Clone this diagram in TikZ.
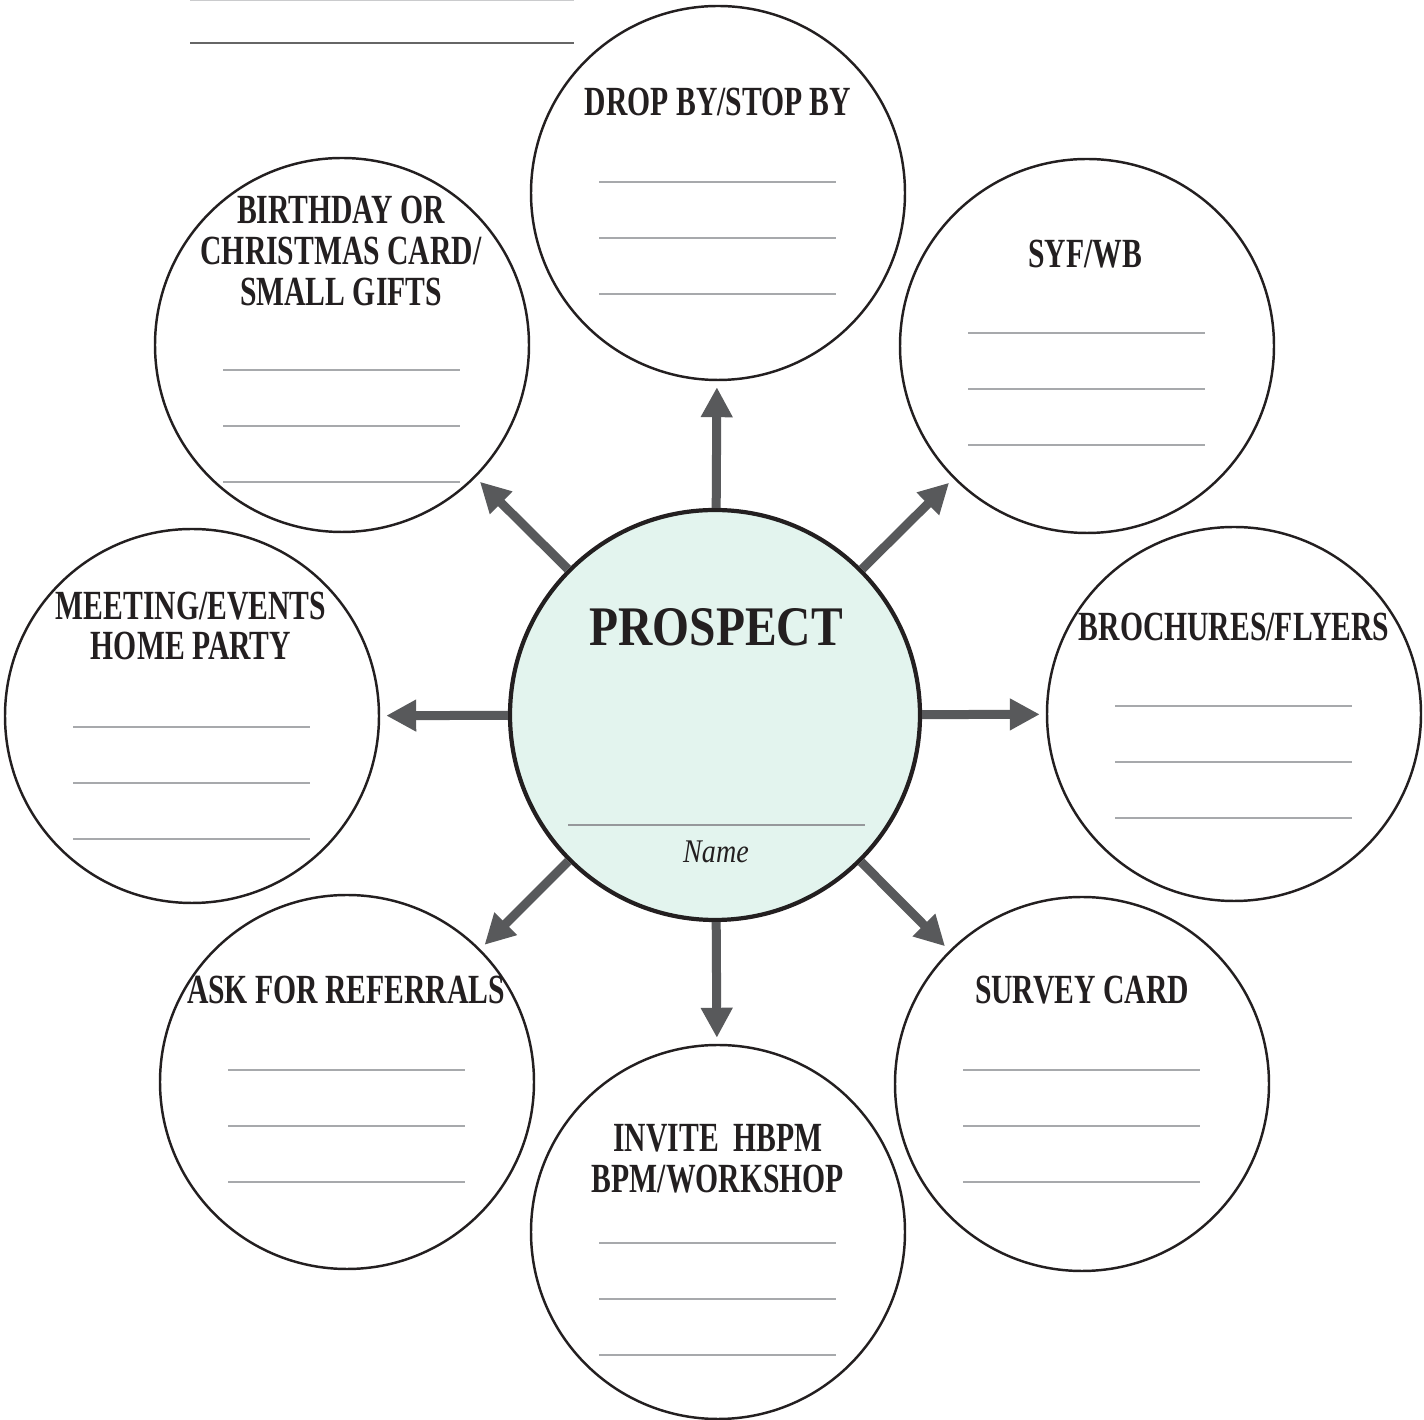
\documentclass[tikz,border=0pt]{standalone}
\usepackage{fontspec}
\newfontfamily\tightfont{Liberation Serif}[FakeStretch=0.715]
\newfontfamily\widefont{Liberation Serif}[FakeStretch=0.85]
\usetikzlibrary{arrows.meta}
\usetikzlibrary{calc}
\usetikzlibrary{positioning}
\definecolor{mint}{HTML}{E3F4EE}
\definecolor{arrowgray}{HTML}{58595B}
\definecolor{inkblack}{HTML}{231F20}
\definecolor{rulegray}{HTML}{A7A9AC}
\tikzstyle{bubble} = [circle, draw=inkblack, line width=0.7pt, minimum size=37.4mm, inner sep=0pt]
\tikzstyle{hub} = [circle, draw=inkblack, line width=1.2pt, fill=mint, minimum size=41mm, inner sep=0pt]
\tikzstyle{heading} = [font=\tightfont\bfseries\fontsize{11.8}{11.6}\selectfont, align=center, inner sep=0pt, text=inkblack]
\tikzstyle{arrow} = [arrowgray, line width=0.9mm, -{Triangle[length=3mm,width=3mm]}, shorten >=0.6mm]
\tikzstyle{writeline} = [rulegray, line width=0.45pt]

\begin{document}
\begin{tikzpicture}[x=0.1mm, y=-0.1mm]
\useasboundingbox (0,0) rectangle (1424,1420);

% blank lines at the top
\draw [writeline, rulegray!60] (190,0.6) -- (574,0.6);
\draw [writeline, black!60, line width=0.6pt] (190,43) -- (574,43);

\node (prospect) [hub] at (715,715) {};
\node (drop) [bubble] at (718,193) {};
\node (syf) [bubble] at (1087,346) {};
\node (brochures) [bubble] at (1234,714) {};
\node (survey) [bubble] at (1082,1084) {};
\node (invite) [bubble] at (718,1232) {};
\node (referrals) [bubble] at (347,1082) {};
\node (meeting) [bubble] at (192,716) {};
\node (birthday) [bubble] at (342,345) {};

\node (prospectT) [heading, font=\widefont\bfseries\fontsize{15.9}{16}\selectfont] at ($(prospect)+(1,-88)$) {PROSPECT};
\node (prospectN) [heading, font=\widefont\itshape\fontsize{9.4}{10}\selectfont] at ($(prospect)+(1,137)$) {Name};
\draw [writeline, rulegray!90!black] ($(prospect)+(-147,110)$) -- ++(297,0);

\node (dropT) [heading] at ($(drop)+(0,-91)$) {DROP BY/STOP BY};
\node (syfT) [heading] at ($(syf)+(-2,-92)$) {SYF/WB};
\node (brochuresT) [heading] at ($(brochures)+(0,-87)$) {BROCHURES/FLYERS};
\node (surveyT) [heading] at ($(survey)+(0,-94)$) {SURVEY CARD};
\node (inviteT) [heading] at ($(invite)+(0,-73)$) {INVITE\ \ HBPM\\BPM/WORKSHOP};
\node (referralsT) [heading] at ($(referrals)+(-1,-92)$) {ASK FOR REFERRALS};
\node (meetingT) [heading] at ($(meeting)+(-1,-90)$) {MEETING/EVENTS\\HOME PARTY};
\node (birthdayT) [heading] at ($(birthday)+(-1,-94)$) {BIRTHDAY OR\\CHRISTMAS CARD/\\SMALL GIFTS};

% lines to write on
\foreach \c/\first in {drop/-11, syf/-13, brochures/-8, survey/-14, invite/11, referrals/-12, meeting/11, birthday/25}
  \foreach \k in {0,1,2}
    \draw [writeline] ($(\c)+(-119,\first+56*\k)$) -- ++(237,0);

\draw [arrow] (prospect) -- (drop);
\draw [arrow] (prospect) -- (syf);
\draw [arrow] (prospect) -- (brochures);
\draw [arrow] (prospect) -- (survey);
\draw [arrow] (prospect) -- (invite);
\draw [arrow] (prospect) -- (referrals);
\draw [arrow] (prospect) -- (meeting);
\draw [arrow] (prospect) -- (birthday);
\end{tikzpicture}
\end{document}
